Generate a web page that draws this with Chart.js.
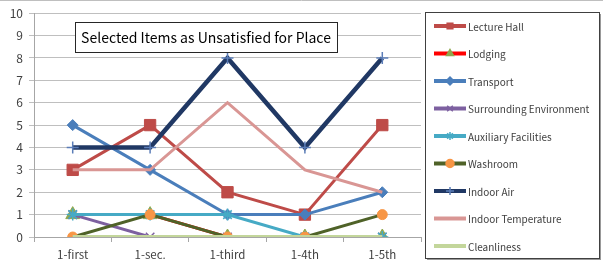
<!DOCTYPE html>
<html>
<head>
<meta charset="utf-8">
<script src="https://cdn.jsdelivr.net/npm/chart.js@4.4.0/dist/chart.umd.min.js"></script>
<style>
  html, body { margin: 0; padding: 0; background: #fff; }
  #wrap { position: relative; width: 603px; height: 274px; }
</style>
</head>
<body>
<div id="wrap"><canvas id="chart" width="603" height="274"></canvas></div>
<script>
const categories = ['1-first', '1-sec.', '1-third', '1-4th', '1-5th']
const yTicks = [0, 10]

const lectureHall = [3, 5, 2, 1, 5]
const lodging = [1, 1, 0, 0, 0]
const transport = [5, 3, 1, 1, 2]
const surrounding = [1, 0, 0, 0, 0]
const auxiliary = [1, 1, 1, 0, 0]
const washroom = [0, 1, 0, 0, 1]
const indoorAir = [4, 4, 8, 4, 8]
const indoorTemp = [3, 3, 6, 3, 2]
const cleanliness = [0, 0, 0, 0, 0]

const titleText = 'Selected Items as Unsatisfied for Place'
const fontFamily = '"Noto Sans CJK KR", "Noto Sans", sans-serif'

function series(label, data, line, marker, style, radius, width) {
    return {
        label: label,
        data: data,
        borderColor: line,
        backgroundColor: marker,
        pointBackgroundColor: marker,
        pointBorderColor: marker,
        pointStyle: style,
        pointRadius: radius,
        pointBorderWidth: style === 'cross' || style === 'crossRot' || style === 'star' ? 1.5 : 1,
        borderWidth: width,
        tension: 0
    }
}

let datasets = [
    series('Lecture Hall', lectureHall, '#BE4B48', '#BE4B48', 'rect', 8, 3),
    series('Lodging', lodging, '#FF0000', '#8FA84E', 'triangle', 8, 3),
    series('Transport', transport, '#4A7EBB', '#4A7EBB', 'rectRot', 5.5, 3),
    series('Surrounding Environment', surrounding, '#7D60A0', '#7D60A0', 'crossRot', 6, 3),
    series('Auxiliary Facilities', auxiliary, '#46AAC5', '#46AAC5', 'star', 6, 3),
    series('Washroom', washroom, '#4F6228', '#F79646', 'circle', 5, 3),
    series('Indoor Air', indoorAir, '#203864', '#5B7DB8', 'cross', 6, 4.5),
    series('Indoor Temperature', indoorTemp, '#D99694', '#D99694', false, 0, 3),
    series('Cleanliness', cleanliness, '#C3D69B', '#C3D69B', false, 0, 4)
]
// later series drawn on top (lower order = on top)
datasets.forEach((d, i) => { d.order = datasets.length - i })

const boxesPlugin = {
    id: 'boxes',
    afterDraw(chart) {
        const ctx = chart.ctx
        ctx.save()
        // outer frame top line
        ctx.strokeStyle = '#BFBFBF'
        ctx.lineWidth = 1
        ctx.beginPath()
        ctx.moveTo(0, 0.5)
        ctx.lineTo(603, 0.5)
        ctx.stroke()

        // title box
        ctx.fillStyle = '#fff'
        ctx.fillRect(75, 22, 262, 30)
        ctx.strokeStyle = '#262626'
        ctx.strokeRect(75.5, 22.5, 262, 30)
        ctx.fillStyle = '#000'
        ctx.font = '14px ' + fontFamily
        ctx.textBaseline = 'middle'
        ctx.textAlign = 'center'
        ctx.fillText(titleText, 206, 38)

        // legend box
        ctx.fillStyle = '#999'
        ctx.fillRect(427, 14, 174, 246)
        ctx.fillStyle = '#fff'
        ctx.fillRect(425, 12, 174, 246)
        ctx.strokeStyle = '#404040'
        ctx.strokeRect(425.5, 12.5, 174, 246)

        ctx.textAlign = 'left'
        ctx.font = '10px ' + fontFamily
        chart.data.datasets.forEach((d, i) => {
            const y = 26 + i * 27.5
            ctx.strokeStyle = d.borderColor
            ctx.lineWidth = 4
            ctx.beginPath()
            ctx.moveTo(434, y)
            ctx.lineTo(466, y)
            ctx.stroke()
            if (d.pointStyle) {
                ctx.fillStyle = d.pointBackgroundColor
                ctx.strokeStyle = d.pointBorderColor
                ctx.lineWidth = 1.5
                Chart.helpers.drawPoint(ctx, { pointStyle: d.pointStyle, radius: 4, borderWidth: 1.5 }, 450, y)
            }
            ctx.fillStyle = '#404040'
            ctx.fillText(d.label, 468, y + 1)
        })
        ctx.restore()
    }
}

new Chart(document.getElementById('chart'), {
    type: 'line',
    data: { labels: categories, datasets: datasets },
    options: {
        responsive: false,
        animation: false,
        layout: { padding: { top: 11, right: 182, bottom: 0, left: 0 } },
        plugins: { legend: { display: false }, tooltip: { enabled: false }, title: { display: false } },
        scales: {
            x: {
                offset: true,
                grid: { offset: true, drawOnChartArea: false, drawTicks: true, tickLength: 5, color: '#A6A6A6' },
                border: { color: '#A6A6A6' },
                ticks: { color: '#404040', font: { size: 11.5, family: fontFamily }, padding: 6 },
                afterFit: s => { s.height = 37 }
            },
            y: {
                min: yTicks[0],
                max: yTicks[1],
                grid: { color: '#BFBFBF', tickLength: 5 },
                border: { color: '#A6A6A6' },
                ticks: { stepSize: 1, color: '#404040', font: { size: 12, family: fontFamily }, padding: 6 },
                afterFit: s => { s.width = 34 }
            }
        }
    },
    plugins: [boxesPlugin]
})
</script>
</body>
</html>
